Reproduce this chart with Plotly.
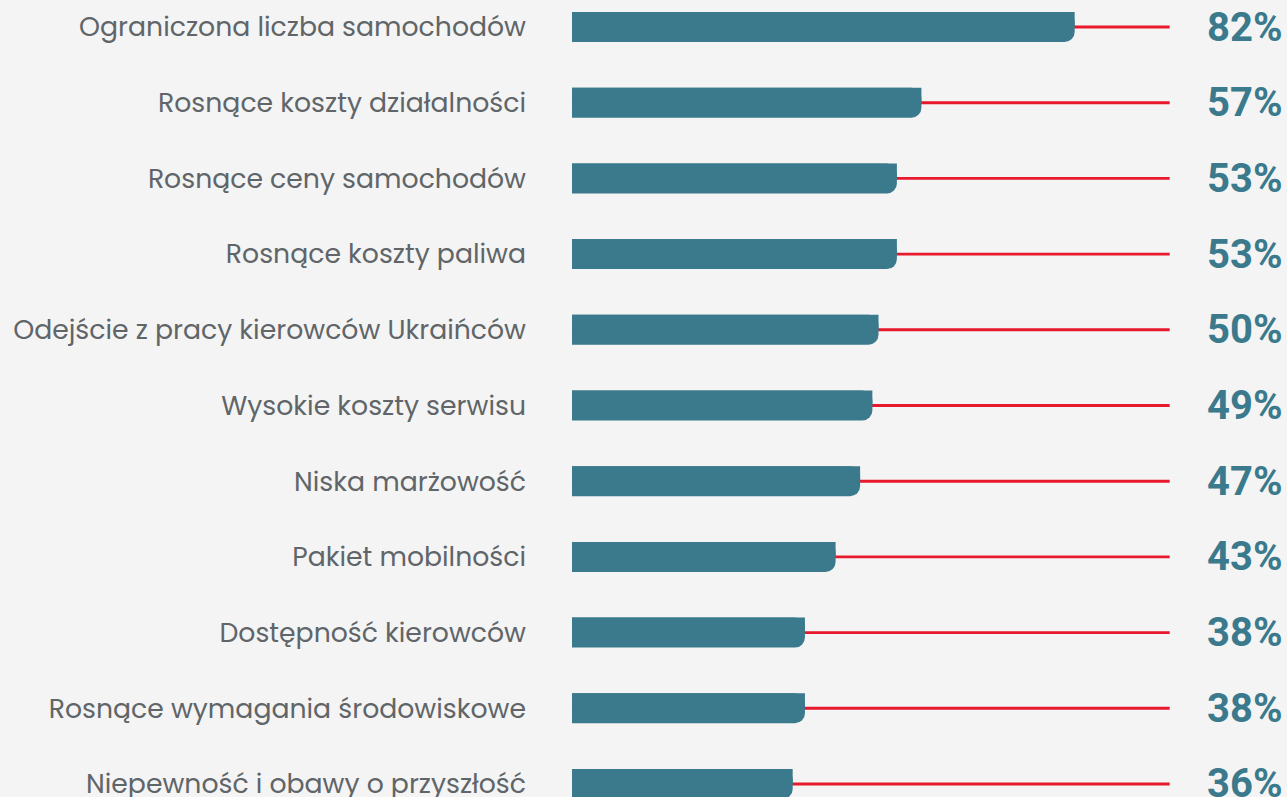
import plotly.graph_objects as go

categories = [
    "Ograniczona liczba samochodów",
    "Rosnące koszty działalności",
    "Rosnące ceny samochodów",
    "Rosnące koszty paliwa",
    "Odejście z pracy kierowców Ukraińców",
    "Wysokie koszty serwisu",
    "Niska marżowość",
    "Pakiet mobilności",
    "Dostępność kierowców",
    "Rosnące wymagania środowiskowe",
    "Niepewność i obawy o przyszłość",
]
values = [82, 57, 53, 53, 50, 49, 47, 43, 38, 38, 36]
value_labels = [f"{v}%" for v in values]
track_end = 97.5

positions = list(range(len(categories)))

TEAL = "#3a7a8c"
RED = "#e8192c"
BG = "#f4f4f4"
BAR_W = 0.396

fig = go.Figure()

# red track lines on the base axis (drawn beneath)
fig.add_trace(go.Bar(x=[track_end] * len(positions), y=positions, orientation="h",
                     marker=dict(color=RED, line=dict(width=0), cornerradius=0),
                     width=0.038, hoverinfo="skip", showlegend=False,
                     xaxis="x", yaxis="y"))

# data bars (rounded end) on overlaying axis
fig.add_trace(go.Bar(x=values, y=positions, orientation="h",
                     marker=dict(color=TEAL, line=dict(width=0), cornerradius=10),
                     width=BAR_W, showlegend=False,
                     xaxis="x", yaxis="y2"))

# upper half of the same bars with square corner (only bottom-right stays rounded)
fig.add_trace(go.Bar(x=values, y=positions, orientation="h",
                     marker=dict(color=TEAL, line=dict(width=0), cornerradius=0),
                     width=BAR_W / 2, offset=-BAR_W / 2, hoverinfo="skip", showlegend=False,
                     xaxis="x", yaxis="y3"))

for p, t in zip(positions, value_labels):
    fig.add_annotation(x=1.0963, xref="paper", y=p, yref="y",
                       text=t, showarrow=False, xanchor="center", yanchor="middle",
                       font=dict(family="Roboto", size=40, color=TEAL, weight="bold"))

yrange = [10.172, -0.357]
fig.update_layout(
    width=1287, height=797,
    margin=dict(l=572, r=102, t=0, b=0),
    paper_bgcolor=BG, plot_bgcolor=BG,
    xaxis=dict(range=[0, 100], visible=False, fixedrange=True, automargin=False),
    yaxis=dict(range=yrange, tickvals=positions, ticktext=categories,
               showgrid=False, zeroline=False, showline=False, automargin=False,
               ticklabelstandoff=45, ticks="", ticklabeloverflow="allow",
               tickfont=dict(family="Poppins, Open Sans", size=26.7, color="#5f6568")),
    yaxis2=dict(range=yrange, overlaying="y", visible=False, automargin=False,
                showgrid=False, zeroline=False),
    yaxis3=dict(range=yrange, overlaying="y", visible=False, automargin=False,
                showgrid=False, zeroline=False),
)

fig.write_html("out.html", config={"displayModeBar": False},
               post_script="document.body.style.margin='0';document.body.style.background='#f4f4f4';")
